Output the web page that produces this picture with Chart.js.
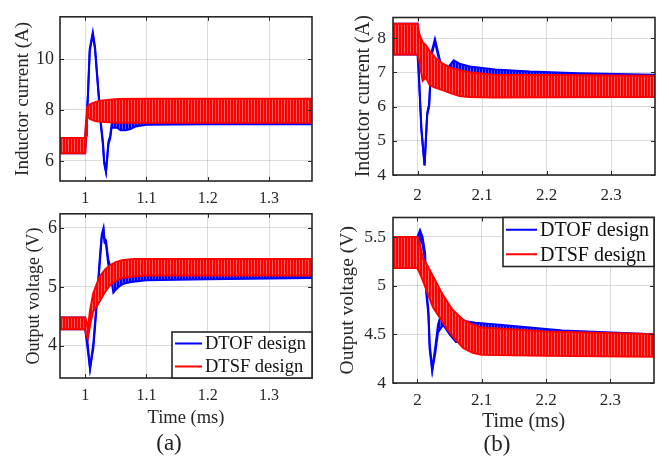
<!DOCTYPE html>
<html>
<head>
<meta charset="utf-8">
<script src="https://cdn.jsdelivr.net/npm/chart.js@4.4.0/dist/chart.umd.min.js"></script>
<style>
  body { margin: 0; background: #fff; width: 669px; height: 463px; position: relative; overflow: hidden; font-family: "Liberation Serif", serif; }
  canvas { position: absolute; }
  .cap { position: absolute; font-size: 23px; color: #222; transform: translate(-50%, -50%); }
</style>
</head>
<body>
<canvas id="a1" width="320" height="215" style="left:0;top:0"></canvas>
<canvas id="a2" width="320" height="230" style="left:0;top:200px"></canvas>
<canvas id="b1" width="330" height="210" style="left:330px;top:0"></canvas>
<canvas id="b2" width="330" height="235" style="left:330px;top:200px"></canvas>
<div class="cap" style="left:169px;top:443px">(a)</div>
<div class="cap" style="left:497px;top:444px">(b)</div>
<script>
const seriesNames = ["DTOF design", "DTSF design"];

// tick values
const timeTicksA = [1, 1.1, 1.2, 1.3];
const timeTicksB = [2, 2.1, 2.2, 2.3];
const currentTicksA = [6, 8, 10];
const voltageTicksA = [4, 5, 6];
const currentTicksB = [4, 5, 6, 7, 8];
const voltageTicksB = [4, 4.5, 5, 5.5];

// (a) inductor current: ripple envelope (upper / lower) in A, time in ms
const tA1Dtof = [0.955, 1.0, 1.002, 1.0045, 1.0075, 1.0125, 1.016, 1.0217, 1.0256, 1.029, 1.031, 1.034, 1.038, 1.041, 1.043, 1.046, 1.052, 1.058, 1.066, 1.074, 1.082, 1.1, 1.2, 1.37];
const a1DtofHi = [6.9, 6.9, 7.6, 8.6, 10.4, 11.05, 10.5, 8.75, 7.5, 6.75, 6.0, 5.6, 6.75, 7.0, 7.4, 7.8, 8.1, 8.15, 8.15, 8.15, 8.2, 8.2, 8.2, 8.2];
const a1DtofLo = [6.3, 6.3, 7.0, 8.5, 10.3, 10.95, 10.4, 8.65, 7.4, 6.65, 5.9, 5.55, 6.65, 6.9, 7.3, 7.3, 7.3, 7.2, 7.2, 7.25, 7.35, 7.42, 7.44, 7.44];
const tA1Dtsf = [0.955, 1.0, 1.0015, 1.003, 1.008, 1.015, 1.025, 1.04, 1.055, 1.1, 1.2, 1.37];
const a1DtsfHi = [6.9, 6.9, 7.6, 8.1, 8.22, 8.3, 8.36, 8.4, 8.43, 8.44, 8.44, 8.44];
const a1DtsfLo = [6.3, 6.3, 7.0, 7.75, 7.65, 7.58, 7.54, 7.52, 7.5, 7.5, 7.5, 7.5];

// (a) output voltage, V
const tA2Dtof = [0.955, 1.0, 1.004, 1.008, 1.0135, 1.019, 1.024, 1.027, 1.03, 1.0315, 1.034, 1.0375, 1.0415, 1.046, 1.05, 1.055, 1.062, 1.075, 1.1, 1.2, 1.37];
const a2DtofHi = [4.48, 4.48, 4.05, 3.62, 4.05, 4.77, 5.5, 5.88, 6.0, 5.82, 5.79, 5.48, 5.31, 5.25, 5.3, 5.35, 5.38, 5.4, 5.4, 5.4, 5.4];
const a2DtofLo = [4.28, 4.28, 3.95, 3.6, 3.97, 4.7, 5.42, 5.82, 5.95, 5.75, 5.72, 5.4, 5.2, 4.9, 4.95, 5.0, 5.05, 5.08, 5.11, 5.13, 5.15];
const tA2Dtsf = [0.955, 1.0, 1.002, 1.0045, 1.008, 1.013, 1.019, 1.024, 1.033, 1.041, 1.05, 1.06, 1.08, 1.1, 1.37];
const a2DtsfHi = [4.48, 4.48, 4.4, 4.3, 4.6, 4.88, 5.05, 5.18, 5.3, 5.37, 5.42, 5.45, 5.47, 5.47, 5.47];
const a2DtsfLo = [4.28, 4.28, 4.18, 4.12, 4.35, 4.58, 4.67, 4.76, 4.92, 5.03, 5.1, 5.15, 5.18, 5.19, 5.19];

// (b) inductor current, A
const tB1Dtof = [1.955, 2.0, 2.0025, 2.006, 2.0109, 2.015, 2.018, 2.022, 2.027, 2.0305, 2.035, 2.04, 2.045, 2.05, 2.056, 2.065, 2.081, 2.12, 2.174, 2.25, 2.37];
const b1DtofHi = [8.42, 8.42, 6.8, 5.37, 4.28, 5.82, 6.08, 7.6, 7.97, 7.69, 7.33, 7.05, 7.1, 7.2, 7.35, 7.25, 7.17, 7.08, 7.02, 6.97, 6.93];
const b1DtofLo = [7.52, 7.52, 6.7, 5.3, 4.28, 5.75, 6.0, 7.5, 7.9, 7.6, 7.25, 6.85, 6.7, 6.65, 6.65, 6.6, 6.58, 6.55, 6.55, 6.55, 6.55];
const tB1Dtsf = [1.955, 2.0, 2.003, 2.008, 2.013, 2.019, 2.028, 2.039, 2.05, 2.065, 2.08, 2.117, 2.2, 2.37];
const b1DtsfHi = [8.42, 8.42, 8.1, 7.87, 7.79, 7.62, 7.42, 7.25, 7.14, 7.06, 7.0, 6.93, 6.92, 6.9];
const b1DtsfLo = [7.52, 7.52, 7.3, 6.75, 6.85, 6.62, 6.55, 6.48, 6.4, 6.31, 6.28, 6.26, 6.27, 6.28];

// (b) output voltage, V
const tB2Dtof = [1.955, 2.0, 2.004, 2.008, 2.012, 2.014, 2.017, 2.019, 2.023, 2.028, 2.032, 2.04, 2.05, 2.06, 2.071, 2.09, 2.123, 2.226, 2.37];
const b2DtofHi = [5.5, 5.5, 5.57, 5.5, 5.33, 4.95, 4.76, 4.41, 4.14, 4.38, 4.6, 4.78, 4.72, 4.62, 4.64, 4.62, 4.6, 4.54, 4.5];
const b2DtofLo = [5.18, 5.2, 5.5, 5.42, 5.25, 4.9, 4.7, 4.35, 4.12, 4.32, 4.52, 4.6, 4.5, 4.42, 4.42, 4.4, 4.38, 4.33, 4.3];
const tB2Dtsf = [1.955, 2.0, 2.004, 2.008, 2.016, 2.024, 2.032, 2.039, 2.047, 2.055, 2.071, 2.086, 2.1, 2.2, 2.37];
const b2DtsfHi = [5.5, 5.5, 5.42, 5.29, 5.2, 5.1, 5.0, 4.91, 4.83, 4.75, 4.65, 4.6, 4.57, 4.53, 4.5];
const b2DtsfLo = [5.18, 5.18, 5.12, 5.06, 4.92, 4.78, 4.7, 4.63, 4.55, 4.48, 4.36, 4.31, 4.29, 4.28, 4.27];

const BLUE = "#0000ff";
const RED = "#ff0000";
const FONT = "'Liberation Serif', 'Times New Roman', serif";

// striped fill so the ripple band looks like dense switching lines
function stripes(main, light) {
  const c = document.createElement("canvas");
  c.width = 3;
  c.height = 1;
  const g = c.getContext("2d");
  g.fillStyle = main;
  g.fillRect(0, 0, 2, 1);
  g.fillStyle = light;
  g.fillRect(2, 0, 1, 1);
  return g.createPattern(c, "repeat");
}
const bluePattern = stripes(BLUE, "#5a5aff");
const redPattern = stripes(RED, "#ff6464");

function band(name, t, hi, lo, color, pattern, order) {
  return [
    {
      label: name, legend: true,
      data: t.map((x, i) => ({ x, y: hi[i] })),
      borderColor: color, borderWidth: 2, pointRadius: 0, fill: false, order,
    },
    {
      label: name + " min",
      data: t.map((x, i) => ({ x, y: lo[i] })),
      borderColor: color, borderWidth: 2, pointRadius: 0, fill: "-1",
      backgroundColor: pattern, order,
    },
  ];
}

// axes box with inward ticks, like the original figure
const framePlugin = {
  id: "frame",
  afterDatasetsDraw(chart) {
    const { ctx, chartArea: a, scales } = chart;
    ctx.save();
    ctx.strokeStyle = "#262626";
    ctx.lineWidth = 1;
    ctx.beginPath();
    scales.x.ticks.forEach((t) => {
      const px = Math.round(scales.x.getPixelForValue(t.value)) + 0.5;
      ctx.moveTo(px, a.bottom); ctx.lineTo(px, a.bottom - 4);
      ctx.moveTo(px, a.top); ctx.lineTo(px, a.top + 4);
    });
    scales.y.ticks.forEach((t) => {
      const py = Math.round(scales.y.getPixelForValue(t.value)) + 0.5;
      ctx.moveTo(a.left, py); ctx.lineTo(a.left + 4, py);
      ctx.moveTo(a.right, py); ctx.lineTo(a.right - 4, py);
    });
    ctx.stroke();
    ctx.lineWidth = 1.6;
    ctx.strokeRect(a.left, a.top, a.right - a.left, a.bottom - a.top);
    ctx.restore();
  },
};

const legendPlugin = {
  id: "boxLegend",
  afterDraw(chart, args, o) {
    if (!o || !o.w) return;
    const { ctx, chartArea: a } = chart;
    const x = a.right - o.w;
    const y = o.top ? a.top : a.bottom - o.h;
    const items = chart.data.datasets.filter((d) => d.legend);
    ctx.save();
    ctx.fillStyle = "#fff";
    ctx.fillRect(x, y, o.w, o.h);
    ctx.strokeStyle = "#262626";
    ctx.lineWidth = 1.6;
    ctx.strokeRect(x, y, o.w, o.h);
    ctx.font = o.size + "px " + FONT;
    ctx.textBaseline = "middle";
    items.forEach((d, i) => {
      const ly = y + (o.h * (i + 0.5)) / items.length;
      ctx.strokeStyle = d.borderColor;
      ctx.lineWidth = 2;
      ctx.beginPath();
      ctx.moveTo(x + 3, ly);
      ctx.lineTo(x + o.line, ly);
      ctx.stroke();
      ctx.fillStyle = "#111";
      ctx.fillText(d.label, x + o.line + 3, ly + 1);
    });
    ctx.restore();
  },
};

function panel(id, p) {
  const datasets = [
    ...band(seriesNames[0], p.tDtof, p.dtofHi, p.dtofLo, BLUE, bluePattern, 1),
    ...band(seriesNames[1], p.tDtsf, p.dtsfHi, p.dtsfLo, RED, redPattern, 0),
  ];
  return new Chart(document.getElementById(id), {
    type: "line",
    data: { datasets },
    options: {
      responsive: false,
      animation: false,
      devicePixelRatio: 1,
      layout: { padding: p.pad },
      plugins: {
        legend: { display: false },
        tooltip: { enabled: false },
        boxLegend: p.legend || false,
      },
      scales: {
        x: {
          type: "linear",
          min: p.xMin,
          max: p.xMax,
          afterBuildTicks: (s) => { s.ticks = p.xTicks.map((v) => ({ value: v })); },
          afterFit: (s) => { s.height = p.xH; },
          grid: { color: "rgba(0,0,0,0.14)", drawTicks: false },
          border: { display: false },
          ticks: {
            font: { family: FONT, size: p.xTickSize },
            color: "#262626",
            padding: p.xTickPad,
            maxRotation: 0,
            autoSkip: false,
            callback: (v) => String(v),
          },
          title: {
            display: !!p.xTitle,
            text: p.xTitle || "",
            font: { family: FONT, size: p.xTitleSize },
            color: "#262626",
            padding: { top: 0, bottom: 1 },
          },
        },
        y: {
          type: "linear",
          min: p.yMin,
          max: p.yMax,
          afterBuildTicks: (s) => { s.ticks = p.yTicks.map((v) => ({ value: v })); },
          afterFit: (s) => { s.width = p.yW; },
          grid: { color: "rgba(0,0,0,0.14)", drawTicks: false },
          border: { display: false },
          ticks: {
            font: { family: FONT, size: p.yTickSize },
            color: "#262626",
            padding: p.yTickPad,
            callback: (v) => String(v),
          },
          title: {
            display: true,
            text: p.yTitle,
            font: { family: FONT, size: p.yTitleSize },
            color: "#262626",
            padding: { top: p.yTitlePad, bottom: 0 },
          },
        },
      },
    },
    plugins: [framePlugin, legendPlugin],
  });
}

panel("a1", {
  tDtof: tA1Dtof, dtofHi: a1DtofHi, dtofLo: a1DtofLo,
  tDtsf: tA1Dtsf, dtsfHi: a1DtsfHi, dtsfLo: a1DtsfLo,
  pad: { left: 0, top: 9, right: 8, bottom: 0 },
  xMin: 0.959, xMax: 1.37, xTicks: timeTicksA, xH: 34, xTickSize: 16, xTickPad: 8,
  yMin: 5.21, yMax: 11.66, yTicks: currentTicksA, yW: 60, yTickSize: 18, yTickPad: 6,
  yTitle: "Inductor current (A)", yTitleSize: 19, yTitlePad: 12,
});

panel("a2", {
  tDtof: tA2Dtof, dtofHi: a2DtofHi, dtofLo: a2DtofLo,
  tDtsf: tA2Dtsf, dtsfHi: a2DtsfHi, dtsfLo: a2DtsfLo,
  pad: { left: 0, top: 13, right: 8, bottom: 0 },
  xMin: 0.959, xMax: 1.37, xTicks: timeTicksA, xH: 52, xTickSize: 16, xTickPad: 8,
  xTitle: "Time (ms)", xTitleSize: 18.5,
  yMin: 3.45, yMax: 6.24, yTicks: voltageTicksA, yW: 60, yTickSize: 18, yTickPad: 3,
  yTitle: "Output voltage (V)", yTitleSize: 18, yTitlePad: 23,
  legend: { w: 140, h: 46, top: false, size: 18.5, line: 30 },
});

panel("b1", {
  tDtof: tB1Dtof, dtofHi: b1DtofHi, dtofLo: b1DtofLo,
  tDtsf: tB1Dtsf, dtsfHi: b1DtsfHi, dtsfLo: b1DtsfLo,
  pad: { left: 0, top: 2, right: 5, bottom: 0 },
  xMin: 1.962, xMax: 2.368, xTicks: timeTicksB, xH: 35, xTickSize: 17, xTickPad: 10,
  yMin: 4, yMax: 8.6, yTicks: currentTicksB, yW: 63, yTickSize: 17.5, yTickPad: 7,
  yTitle: "Inductor current (A)", yTitleSize: 20, yTitlePad: 22,
});

panel("b2", {
  tDtof: tB2Dtof, dtofHi: b2DtofHi, dtofLo: b2DtofLo,
  tDtsf: tB2Dtsf, dtsfHi: b2DtsfHi, dtsfLo: b2DtsfLo,
  pad: { left: 0, top: 4, right: 6, bottom: 0 },
  xMin: 1.962, xMax: 2.368, xTicks: timeTicksB, xH: 52, xTickSize: 17, xTickPad: 7,
  xTitle: "Time (ms)", xTitleSize: 20,
  yMin: 4, yMax: 5.7, yTicks: voltageTicksB, yW: 63, yTickSize: 17.5, yTickPad: 7,
  yTitle: "Output voltage (V)", yTitleSize: 19.5, yTitlePad: 6,
  legend: { w: 151, h: 49, top: true, size: 20, line: 34 },
});
</script>
</body>
</html>
